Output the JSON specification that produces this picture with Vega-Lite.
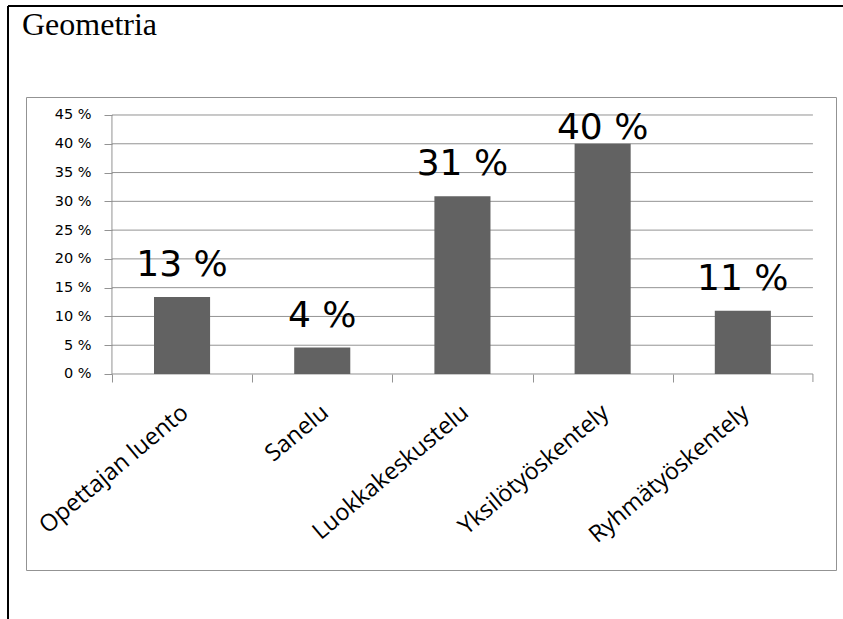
{
  "$schema": "https://vega.github.io/schema/vega-lite/v6.json",
  "width": 810,
  "height": 473,
  "autosize": {"type": "none"},
  "padding": {"left": 26, "top": 97, "right": 7, "bottom": 49},
  "background": "white",
  "title": {"text": "Geometria", "anchor": "start", "frame": "group", "font": "Liberation Serif", "fontSize": 32, "fontWeight": "normal", "color": "black", "offset": -62, "dx": -4, "baseline": "alphabetic"},
  "config": {"view": {"stroke": "#939393", "strokeWidth": 1}, "axis": {"title": null}},
  "datasets": {
    "bars": [
      {"category": "Opettajan luento", "value": 0.134, "label": "13 %"},
      {"category": "Sanelu", "value": 0.046, "label": "4 %"},
      {"category": "Luokkakeskustelu", "value": 0.309, "label": "31 %"},
      {"category": "Yksilötyöskentely", "value": 0.40, "label": "40 %"},
      {"category": "Ryhmätyöskentely", "value": 0.11, "label": "11 %"}
    ],
    "grid": [
      {"tick": 0}, {"tick": 0.05}, {"tick": 0.1}, {"tick": 0.15}, {"tick": 0.2},
      {"tick": 0.25}, {"tick": 0.3}, {"tick": 0.35}, {"tick": 0.4}, {"tick": 0.45}
    ],
    "one": [{"k": 1}]
  },
  "layer": [
    {
      "data": {"name": "grid"},
      "mark": {"type": "rule", "color": "#939393", "strokeWidth": 1},
      "encoding": {
        "x": {
          "datum": "Opettajan luento", "type": "nominal", "bandPosition": -0.75,
          "scale": {"type": "band", "domain": ["Opettajan luento", "Sanelu", "Luokkakeskustelu", "Yksilötyöskentely", "Ryhmätyöskentely"], "paddingInner": 0.6, "paddingOuter": 0.68876, "align": 0.6628},
          "axis": {"orient": "bottom", "offset": -196, "bandPosition": 0, "tickOffset": -42, "labelOffset": 37, "tickSize": 8, "tickColor": "#939393", "domain": false, "grid": false, "labelAngle": -40, "labelAlign": "right", "labelBaseline": "top", "labelFont": "Open Sans", "labelFontSize": 23.5, "labelColor": "black", "labelPadding": 18, "labelLimit": 0, "labelOverlap": false, "title": null}
        },
        "x2": {"datum": "Ryhmätyöskentely", "bandPosition": 1.75},
        "y": {
          "field": "tick", "type": "quantitative",
          "scale": {"domain": [-0.340541, 0.481274], "nice": false, "zero": false},
          "axis": {"orient": "left", "offset": -86, "values": [0, 0.05, 0.1, 0.15, 0.2, 0.25, 0.3, 0.35, 0.4, 0.45], "labelExpr": "format(datum.value * 100, '.0f') + ' %'", "tickSize": 8, "tickColor": "#939393", "domain": false, "grid": false, "labelFont": "DejaVu Sans", "labelFontSize": 14.5, "labelColor": "black", "labelPadding": 13, "title": null}
        }
      }
    },
    {
      "data": {"name": "one"},
      "mark": {"type": "rule", "color": "#939393", "strokeWidth": 1},
      "encoding": {
        "x": {"datum": "Opettajan luento", "type": "nominal", "bandPosition": -0.75},
        "y": {"datum": 0, "type": "quantitative"},
        "y2": {"datum": 0.45}
      }
    },
    {
      "data": {"name": "one"},
      "mark": {"type": "rule", "color": "#939393", "strokeWidth": 1},
      "encoding": {
        "x": {"datum": "Ryhmätyöskentely", "type": "nominal", "bandPosition": 1.75},
        "y": {"datum": 0, "type": "quantitative"},
        "y2": {"datum": -0.0139}
      }
    },
    {
      "data": {"name": "bars"},
      "mark": {"type": "bar", "color": "#626262"},
      "encoding": {
        "x": {"field": "category", "type": "nominal"},
        "y": {"field": "value", "type": "quantitative"},
        "y2": {"datum": 0}
      }
    },
    {
      "data": {"name": "bars"},
      "mark": {"type": "text", "font": "DejaVu Sans", "fontSize": 36, "color": "black", "align": "center", "baseline": "alphabetic", "dy": {"expr": "datum.value > 0.35 ? -5 : -21"}},
      "encoding": {
        "x": {"field": "category", "type": "nominal"},
        "y": {"field": "value", "type": "quantitative"},
        "text": {"field": "label"}
      }
    },
    {
      "data": {"name": "one"},
      "mark": {"type": "rule", "color": "black", "strokeWidth": 2},
      "encoding": {
        "x": {"datum": "Opettajan luento", "type": "nominal", "bandPosition": -2.6034},
        "x2": {"datum": "Ryhmätyöskentely", "bandPosition": 2.35},
        "y": {"datum": 0.639382, "type": "quantitative"}
      }
    },
    {
      "data": {"name": "one"},
      "mark": {"type": "rule", "color": "black", "strokeWidth": 2},
      "encoding": {
        "x": {"datum": "Opettajan luento", "type": "nominal", "bandPosition": -2.6034},
        "y": {"datum": 0.639382, "type": "quantitative"},
        "y2": {"datum": -0.43}
      }
    }
  ]
}
